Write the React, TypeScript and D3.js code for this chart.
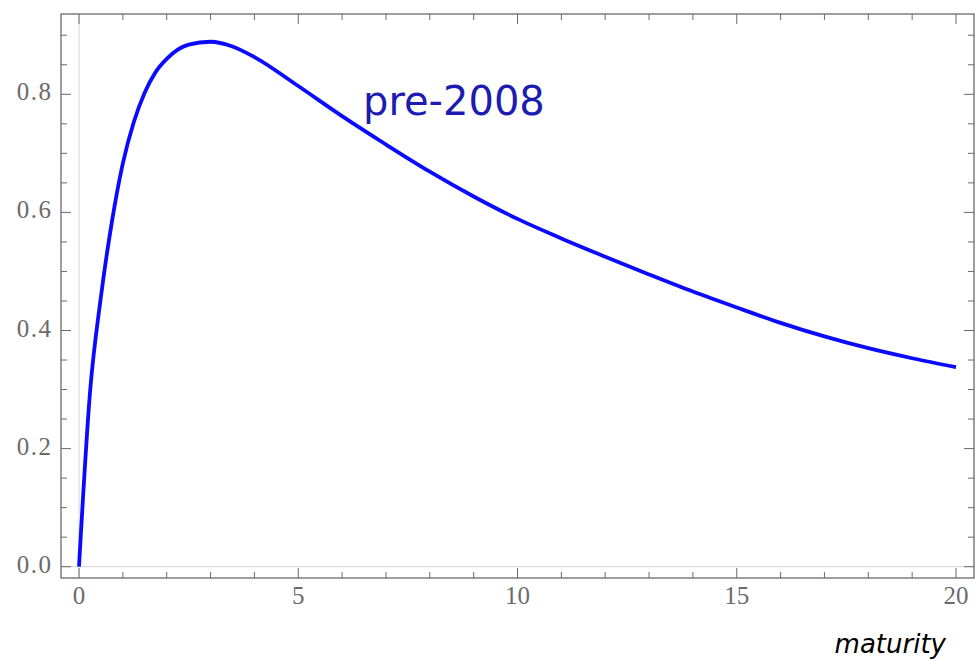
import * as d3 from 'd3';

// values
const maturities = [0, 0.25, 0.5, 0.75, 1, 1.25, 1.5, 1.75, 2, 2.5, 3, 3.5, 4, 5, 6, 7, 8, 9, 10, 11, 12, 13, 14, 15, 16, 17, 18, 19, 20];
const loadings = [0, 0.294, 0.457, 0.584, 0.683, 0.753, 0.803, 0.838, 0.86, 0.884, 0.889, 0.881, 0.863, 0.814, 0.763, 0.715, 0.669, 0.627, 0.589, 0.556, 0.525, 0.495, 0.466, 0.439, 0.413, 0.39, 0.37, 0.353, 0.338];

const xMajor = [0, 5, 10, 15, 20];
const xMinor = d3.range(0, 21, 1);
const yMajor = [0, 0.2, 0.4, 0.6, 0.8];
const yMinor = d3.range(0, 0.91, 0.05);

const seriesLabel = 'pre-2008';
const xTitle = 'maturity';

const W = 975;
const H = 661;
const frame = { left: 61, right: 974, top: 14, bottom: 578 };

export default function App() {
  const x = d3.scaleLinear().domain([0, 20]).range([79, 956]);
  const y = d3.scaleLinear().domain([0, 0.8]).range([566.7, 94.3]);

  const pts: [number, number][] = maturities.map((m, i) => [m, loadings[i]]);
  const line = d3.line<[number, number]>()
    .x(d => x(d[0]))
    .y(d => y(d[1]))
    .curve(d3.curveMonotoneX);

  const tickColor = '#6b6b6b';
  const isMajorX = (v: number) => xMajor.includes(v);
  const isMajorY = (v: number) => yMajor.some(m => Math.abs(m - v) < 1e-6);

  return (
    <svg width={W} height={H} style={{ position: 'absolute', left: 0, top: 0, background: '#fff' }}>
      {/* light axes at 0 */}
      <line x1={x(0)} x2={x(0)} y1={frame.top} y2={frame.bottom} stroke="#d4d4d4" strokeWidth={1} />
      <line x1={frame.left} x2={frame.right} y1={y(0)} y2={y(0)} stroke="#d4d4d4" strokeWidth={1} />

      {/* curve */}
      <path d={line(pts) || ''} fill="none" stroke="#0a0aff" strokeWidth={3.8} strokeLinejoin="round" />

      {/* frame */}
      <rect x={frame.left} y={frame.top} width={frame.right - frame.left} height={frame.bottom - frame.top}
        fill="none" stroke={tickColor} strokeWidth={1.3} />

      {/* x ticks, bottom and top */}
      {xMinor.map(v => {
        const len = isMajorX(v) ? 10 : 6;
        return (
          <g key={'xt' + v}>
            <line x1={x(v)} x2={x(v)} y1={frame.bottom} y2={frame.bottom - len} stroke={tickColor} strokeWidth={1} />
            <line x1={x(v)} x2={x(v)} y1={frame.top} y2={frame.top + len} stroke={tickColor} strokeWidth={1} />
          </g>
        );
      })}
      {/* y ticks, left and right */}
      {yMinor.map(v => {
        const len = isMajorY(v) ? 10 : 6;
        return (
          <g key={'yt' + v.toFixed(2)}>
            <line x1={frame.left} x2={frame.left + len} y1={y(v)} y2={y(v)} stroke={tickColor} strokeWidth={1} />
            <line x1={frame.right} x2={frame.right - len} y1={y(v)} y2={y(v)} stroke={tickColor} strokeWidth={1} />
          </g>
        );
      })}

      {/* tick labels */}
      {xMajor.map(v => (
        <text key={'xl' + v} x={x(v)} y={604} textAnchor="middle" fontFamily="'Liberation Serif', 'Times New Roman', serif"
          fontSize={25} fill={tickColor}>{v}</text>
      ))}
      {yMajor.map(v => (
        <text key={'yl' + v} x={52.5} y={y(v) + 6} textAnchor="end" fontFamily="'Liberation Serif', 'Times New Roman', serif"
          fontSize={25} letterSpacing={1.5} fill={tickColor}>{d3.format('.1f')(v)}</text>
      ))}

      {/* series label */}
      <text x={363} y={115} fontFamily="'DejaVu Sans', sans-serif" fontSize={40} fill="#1c1cb0">{seriesLabel}</text>

      {/* axis title */}
      <text x={946} y={653} textAnchor="end" fontFamily="'DejaVu Sans', sans-serif" fontStyle="italic"
        fontSize={26} fill="#000">{xTitle}</text>
    </svg>
  );
}
